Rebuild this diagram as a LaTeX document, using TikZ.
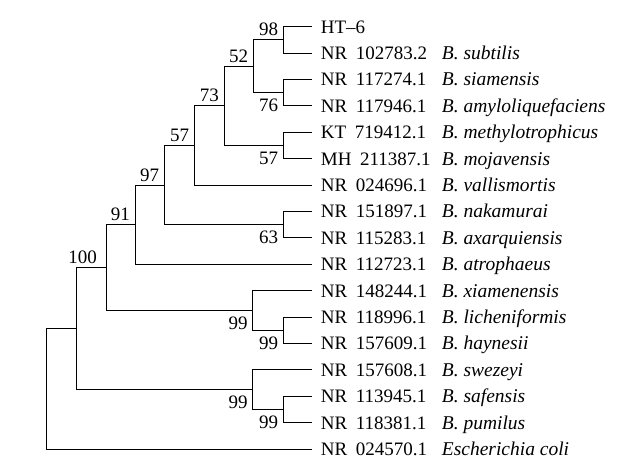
\documentclass[tikz,border=0pt]{standalone}
\usepackage{fontspec}
\setmainfont{Liberation Serif}
\newfontfamily\accfont{Liberation Serif}[WordSpace=1.8]
\begin{document}
\begin{tikzpicture}[x=1pt,y=-1pt,
    branch/.style={line width=0.9pt},
    leaf/.style={anchor=base west,inner sep=0pt,font=\accfont\fontsize{19}{22}\selectfont},
    bsup/.style={anchor=base east,inner sep=0pt,xshift=-5pt,yshift=4pt,font=\fontsize{19}{22}\selectfont},
    bsdown/.style={anchor=base east,inner sep=0pt,xshift=-5pt,yshift=-19pt,font=\fontsize{19}{22}\selectfont}]
    \useasboundingbox (0,0) rectangle (625,463);
    %% Leaves
    \foreach \i/\acc/\sp in {0/HT–6/, 1/NR 102783.2/B. subtilis, 2/NR 117274.1/B. siamensis,
        3/NR 117946.1/B. amyloliquefaciens, 4/KT 719412.1/B. methylotrophicus,
        5/MH 211387.1/B. mojavensis, 6/NR 024696.1/B. vallismortis,
        7/NR 151897.1/B. nakamurai, 8/NR 115283.1/B. axarquiensis,
        9/NR 112723.1/B. atrophaeus, 10/NR 148244.1/B. xiamenensis,
        11/NR 118996.1/B. licheniformis, 12/NR 157609.1/B. haynesii,
        13/NR 157608.1/B. swezeyi, 14/NR 113945.1/B. safensis,
        15/NR 118381.1/B. pumilus, 16/NR 024570.1/Escherichia coli} {
        \pgfmathsetmacro\ly{26.7+26.4*\i}
        \coordinate (t\i) at (312,\ly);
        \node[leaf] (leaf\i) at (320.7,\ly+6.3) {\makebox[121pt][l]{\acc}{\normalfont\fontsize{19.5}{22}\selectfont\itshape\sp}};
    }
    %% Inner nodes
    \coordinate (a98) at (283.3,39.9);
    \coordinate (a76) at (283.3,92.7);
    \coordinate (a57b) at (283.3,145.5);
    \coordinate (a63) at (283.3,224.7);
    \coordinate (a99b) at (283.3,330.3);
    \coordinate (a99d) at (283.3,409.5);
    \coordinate (a52) at (253.3,66.3);
    \coordinate (a73) at (224,105.9);
    \coordinate (a57) at (194.3,145.5);
    \coordinate (a97) at (164.3,185.1);
    \coordinate (a91) at (135,224.7);
    \coordinate (a99a) at (252.7,310.5);
    \coordinate (a99c) at (252.7,389.7);
    \coordinate (a100) at (106,267.6);
    \coordinate (ax) at (76,328.65);
    \coordinate (root) at (46.7,388.9);
    %% Branches
    \foreach \p/\c in {a98/t0, a98/t1, a76/t2, a76/t3, a57b/t4, a57b/t5,
        a52/a98, a52/a76, a73/a52, a73/a57b, a57/a73, a57/t6,
        a63/t7, a63/t8, a97/a57, a97/a63, a91/a97, a91/t9,
        a99b/t11, a99b/t12, a99a/t10, a99a/a99b, a100/a91, a100/a99a,
        a99d/t14, a99d/t15, a99c/t13, a99c/a99d, ax/a100, ax/a99c,
        root/ax, root/t16}
        \draw[branch] (\p) |- (\c);
    %% Bootstrap values
    \node[bsup] (b98) at (a98) {98};
    \node[bsup] (b52) at (a52) {52};
    \node[bsup] (b73) at (a73) {73};
    \node[bsup] (b57) at (a57) {57};
    \node[bsup] (b97) at (a97) {97};
    \node[bsup] (b91) at (a91) {91};
    \node[bsup,xshift=-4pt] (b100) at (a100) {100};
    \node[bsdown] (b76) at (a76) {76};
    \node[bsdown] (b57b) at (a57b) {57};
    \node[bsdown] (b63) at (a63) {63};
    \node[bsdown] (b99a) at (a99a) {99};
    \node[bsdown] (b99b) at (a99b) {99};
    \node[bsdown] (b99c) at (a99c) {99};
    \node[bsdown] (b99d) at (a99d) {99};
\end{tikzpicture}
\end{document}
